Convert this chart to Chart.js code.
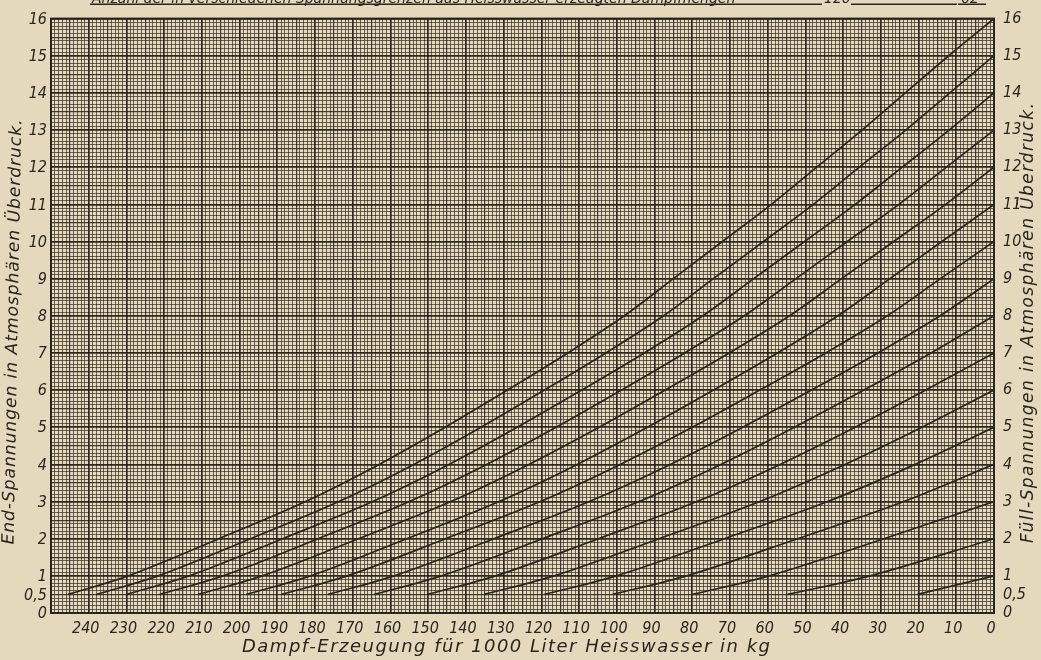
<!DOCTYPE html>
<html>
<head>
<meta charset="utf-8">
<script src="https://cdn.jsdelivr.net/npm/chart.js@4.4.0/dist/chart.umd.min.js"></script>
<style>
  html, body { margin: 0; padding: 0; background: #e4d8bd; }
  #wrap { width: 1041px; height: 660px; }
</style>
</head>
<body>
<div id="wrap"><canvas id="chart" width="1041" height="660"></canvas></div>
<script>
// ---------- DATA ----------
// End pressure levels (atü) the curves are read at, top to bottom.
const endLevels = [16, 15, 14, 13, 12, 11, 10, 9, 8, 7, 6, 5, 4, 3, 2, 1, 0.5];

// Steam produced (kg per 1000 l) for each fill pressure, read at endLevels
// starting from the fill pressure itself and going down to 0.5 atü.
const kgFill16 = [0, 12, 23.5, 35, 47, 59, 72, 85, 98, 113, 129, 145.5, 163, 182.5, 205.5, 229.5, 245.5];
const kgFill15 = [0, 11.7, 23.4, 35.7, 47.9, 61.1, 74.4, 87.6, 102.9, 119.2, 136, 153.8, 173.7, 197.1, 221.6, 237.9];
const kgFill14 = [0, 11.9, 24.3, 36.8, 50.2, 63.7, 77.2, 92.7, 109.3, 126.4, 144.5, 164.7, 188.6, 213.4, 230];
const kgFill13 = [0, 12.6, 25.2, 38.9, 52.5, 66.2, 82, 98.8, 116.1, 134.5, 155, 179.2, 204.4, 221.2];
const kgFill12 = [0, 12.8, 26.6, 40.4, 54.2, 70.2, 87.2, 104.7, 123.3, 144, 168.5, 194, 211];
const kgFill11 = [0, 13.8, 27.6, 41.4, 57.4, 74.4, 91.9, 110.5, 131.2, 155.7, 181.2, 198.2];
const kgFill10 = [0, 14.2, 28.3, 44.6, 62.1, 80, 99.1, 120.3, 145.4, 171.5, 188.9];
const kgFill9 = [0, 14.3, 30.8, 48.4, 66.6, 85.8, 107.3, 132.6, 159, 176.6];
const kgFill8 = [0, 16.7, 34.5, 52.9, 72.4, 94.1, 119.7, 146.5, 164.3];
const kgFill7 = [0, 18.1, 36.8, 56.7, 78.8, 104.9, 132.1, 150.2];
const kgFill6 = [0, 19.1, 39.5, 62.1, 88.8, 116.6, 135.2];
const kgFill5 = [0, 20.9, 44.1, 71.5, 100.1, 119.2];
const kgFill4 = [0, 23.9, 52.1, 81.5, 101.1];
const kgFill3 = [0, 29.2, 59.6, 79.9];
const kgFill2 = [0, 32.8, 54.7];
const kgFill1 = [0, 20.3];

const fillPressures = [16, 15, 14, 13, 12, 11, 10, 9, 8, 7, 6, 5, 4, 3, 2, 1];
const fillKg = [kgFill16, kgFill15, kgFill14, kgFill13, kgFill12, kgFill11, kgFill10, kgFill9,
                kgFill8, kgFill7, kgFill6, kgFill5, kgFill4, kgFill3, kgFill2, kgFill1];

// axis texts
const xTitle = "Dampf-Erzeugung für 1000 Liter Heisswasser in kg";
const leftTitle = "End-Spannungen in Atmosphären Überdruck.";
const rightTitle = "Füll-Spannungen in Atmosphären Überdruck.";
const headerText = "Anzahl der in verschiedenen Spannungsgrenzen aus Heisswasser erzeugten Dampfmengen";
const headerNums = ["120", "62"];

// ---------- STYLE ----------
const INK = "#2a241e";
const GRID_MAJOR = "rgba(38,31,24,0.95)";
const GRID_MID = "rgba(40,33,26,0.85)";
const GRID_FINE = "rgba(48,40,32,0.68)";
const TICK_FONT = { family: "'Liberation Sans Narrow', 'DejaVu Sans Condensed', sans-serif", style: "italic", size: 16 };

function gridKind(v, unit) {
  const n = Math.round(v / unit);
  if (n % 10 === 0) return 2;
  if (n % 5 === 0) return 1;
  return 0;
}
const gridColor = unit => ctx => [GRID_FINE, GRID_MID, GRID_MAJOR][gridKind(ctx.tick.value, unit)];
const gridWidth = unit => ctx => [1, 1.2, 1.7][gridKind(ctx.tick.value, unit)];

function yLabel(v) {
  const t = Math.round(v * 10);
  if (t % 10 === 0) return String(t / 10);
  if (t === 5) return "0,5";
  return "";
}

// Text with spacing stretched to a target width (the lettering on the sheet is wide).
function spacedText(ctx, text, cx, cy, width, angle, size) {
  ctx.save();
  ctx.translate(cx, cy);
  ctx.rotate(angle);
  ctx.font = `italic ${size}px 'DejaVu Sans', sans-serif`;
  ctx.letterSpacing = "0px";
  const w = ctx.measureText(text).width;
  const sp = (width - w) / (text.length - 1);
  ctx.letterSpacing = sp + "px";
  ctx.textAlign = "center";
  ctx.textBaseline = "middle";
  ctx.fillStyle = INK;
  ctx.fillText(text, sp / 2, 0);
  ctx.restore();
}

const paperText = {
  id: "paperText",
  afterDraw(chart) {
    const ctx = chart.ctx;
    const a = chart.chartArea;
    spacedText(ctx, xTitle, 506, 647, 528, 0, 18);
    spacedText(ctx, leftTitle, 13, 332, 425, -Math.PI / 2 + 0.018, 17);
    spacedText(ctx, rightTitle, 1029, 323, 440, -Math.PI / 2, 17);

    // header line at the top edge, mostly cut off by the scan
    ctx.save();
    ctx.fillStyle = INK;
    ctx.font = "italic 14px 'DejaVu Sans', sans-serif";
    ctx.textBaseline = "alphabetic";
    ctx.fillText(headerText, 92, 3);
    ctx.fillText(headerNums[0], 824, 3);
    ctx.fillText(headerNums[1], 961, 3);
    ctx.fillRect(90, 3.5, 732, 1.5);
    ctx.fillRect(851, 3.5, 106, 1.5);
    ctx.fillRect(958, 3.5, 28, 1.5);
    ctx.restore();

    // plot frame
    ctx.save();
    ctx.strokeStyle = INK;
    ctx.lineWidth = 2;
    ctx.strokeRect(a.left, a.top, a.right - a.left, a.bottom - a.top);
    ctx.restore();
  }
};

// ---------- CHART ----------
const datasets = fillPressures.map((fill, k) => ({
  label: fill + " atü",
  data: fillKg[k].map((kg, i) => ({ x: kg, y: endLevels[16 - fill + i] })),
  borderColor: INK,
  borderWidth: 1.7,
  pointRadius: 0,
  fill: false,
  cubicInterpolationMode: "monotone"
}));

new Chart(document.getElementById("chart"), {
  type: "line",
  data: { datasets },
  plugins: [paperText],
  options: {
    responsive: false,
    animation: false,
    layout: { padding: { top: 15, left: 0, right: 0, bottom: 0 } },
    plugins: { legend: { display: false }, tooltip: { enabled: false } },
    scales: {
      x: {
        type: "linear",
        reverse: true,
        min: 0,
        max: 250,
        ticks: {
          stepSize: 1,
          autoSkip: false,
          maxRotation: 0,
          padding: 6,
          labelOffset: -3,
          color: INK,
          font: TICK_FONT,
          callback: v => (v % 10 === 0 && v <= 240) ? String(v) : ""
        },
        grid: { color: gridColor(1), lineWidth: gridWidth(1), drawTicks: false },
        border: { display: false },
        afterFit: s => { s.height = 47; }
      },
      y: {
        min: 0,
        max: 16,
        ticks: {
          stepSize: 0.1,
          autoSkip: false,
          padding: 4,
          labelOffset: 1,
          color: INK,
          font: TICK_FONT,
          callback: yLabel
        },
        grid: { color: gridColor(0.1), lineWidth: gridWidth(0.1), drawTicks: false },
        border: { display: false },
        afterFit: s => { s.width = 51; }
      },
      y2: {
        position: "right",
        min: 0,
        max: 16,
        ticks: {
          stepSize: 0.5,
          autoSkip: false,
          padding: 9,
          color: INK,
          font: TICK_FONT,
          callback: yLabel
        },
        grid: { display: false, drawTicks: false },
        border: { display: false },
        afterFit: s => { s.width = 47; }
      }
    }
  }
});
</script>
</body>
</html>
